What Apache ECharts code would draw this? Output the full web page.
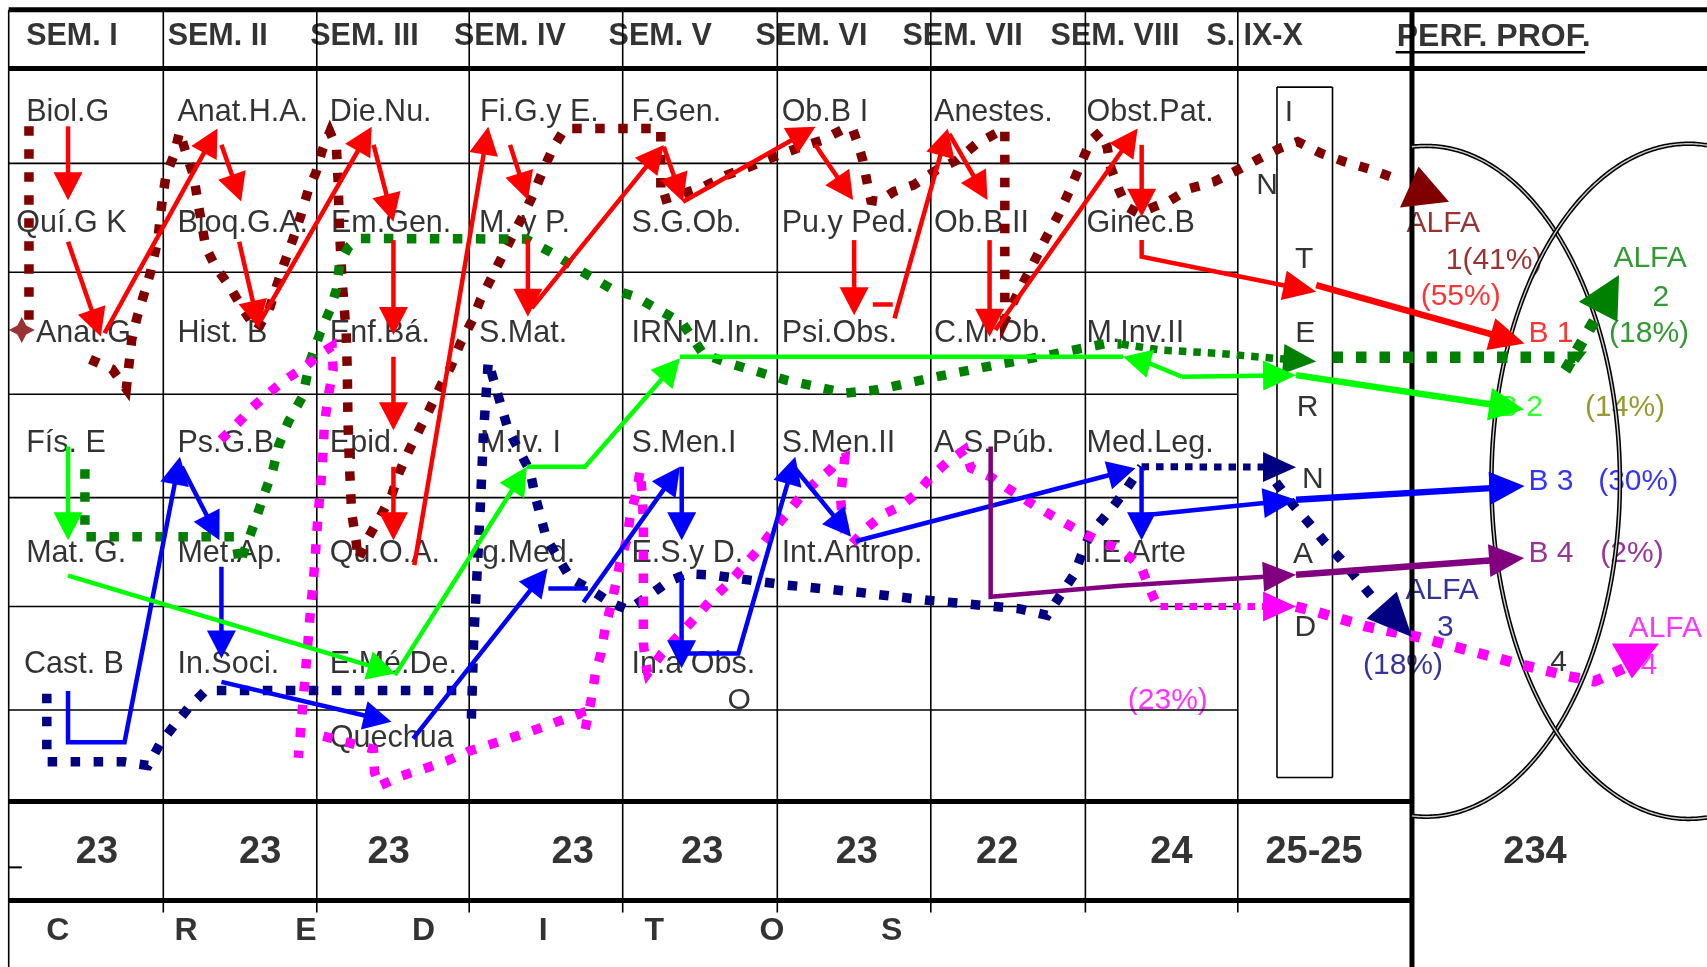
<!DOCTYPE html>
<html>
<head>
<meta charset="utf-8">
<title>Malla curricular</title>
<script src="https://cdn.jsdelivr.net/npm/echarts@6.0.0/dist/echarts.min.js"></script>
<style>
  html, body { margin: 0; padding: 0; background: #fff; }
  #chart { width: 1707px; height: 967px; }
</style>
</head>
<body>
<div id="chart"></div>
<script>
// sheet units: 1568 x 888, y grows downwards
var RED = '#ff0000', DRED = '#800000', GREEN = '#008000', LIME = '#00ff00',
    BLUE = '#0000ff', NAVY = '#000080', MAG = '#ff00ff', PURPLE = '#800080', OLIVE = '#808000';
var FONT = 'Liberation Sans';

// table rules
var colX = [150, 291, 431, 572, 714, 855, 997, 1137];
var rowY = [150, 250, 362, 457, 557, 652];

// header
var semesters = ['SEM. I', 'SEM. II', 'SEM. III', 'SEM. IV', 'SEM. V', 'SEM. VI', 'SEM. VII', 'SEM. VIII', 'S. IX-X', 'PERF. PROF.'];
var semesterX = [24, 154, 285, 417, 559, 694, 829, 965, 1108, 1283];

// courses: name, x, y
var courses = [
  ['Biol.G', 24, 101], ['Anat.H.A.', 163, 101], ['Die.Nu.', 303, 101], ['Fi.G.y E.', 441, 101],
  ['F.Gen.', 580, 101], ['Ob.B I', 718, 101], ['Anestes.', 858, 101], ['Obst.Pat.', 998, 101],
  ['Quí.G K', 15, 203], ['Bioq.G.A.', 163, 203], ['Em.Gen.', 304, 203], ['M. y P.', 440, 203],
  ['S.G.Ob.', 580, 203], ['Pu.y Ped.', 718, 203], ['Ob.B II', 858, 203], ['Ginec.B', 998, 203],
  ['Anat.G', 33, 304], ['Hist. B', 163, 304], ['Enf.Bá.', 303, 304], ['S.Mat.', 440, 304],
  ['IRN.M.In.', 580, 304], ['Psi.Obs.', 718, 304], ['C.M.Ob.', 858, 304], ['M.Inv.II', 998, 304],
  ['Fís. E', 24, 405], ['Ps.G.B', 163, 405], ['Epid.', 303, 405], ['M.Iv. I', 441, 405],
  ['S.Men.I', 580, 405], ['S.Men.II', 718, 405], ['A.S.Púb.', 858, 405], ['Med.Leg.', 998, 405],
  ['Mat. G.', 24, 506], ['Met.Ap.', 163, 506], ['Qu.O.A.', 303, 506], ['Ig.Med.', 435, 506],
  ['E.S.y D.', 580, 506], ['Int.Antrop.', 718, 506], ['I.E.Arte', 996, 506],
  ['Cast. B', 22, 608], ['In.Soci.', 163, 608], ['E.Mé.De.', 303, 608], ['In.a Obs.', 580, 608],
  ['Quechua', 303, 676]
];

// credits row
var credits = ['23', '23', '23', '23', '23', '23', '22', '24', '25-25', '234'];
var creditX = [89, 239, 357, 526, 645, 787, 916, 1076, 1207, 1410];
var creditLetters = ['C', 'R', 'E', 'D', 'I', 'T', 'O', 'S'];
var creditLetterX = [53, 171, 281, 389, 499, 601, 709, 819];

// INTERNADO letters (centre x, y)
var internado = [['I', 1184, 101], ['N', 1164, 168], ['T', 1198, 236], ['E', 1199, 304], ['R', 1201, 372],
  ['N', 1206, 438], ['A', 1197, 507], ['D', 1199, 574], ['O', 679, 641]];

// profile notes: text, x, y, colour
var notes = [
  ['ALFA', 1292, 203, DRED], ['1(41%)', 1328, 237, DRED], ['(55%)', 1305, 270, RED],
  ['ALFA', 1482, 235, GREEN], ['2', 1518, 271, GREEN], ['(18%)', 1478, 304, GREEN],
  ['B 1', 1404, 304, RED], ['B 2', 1376, 372, LIME], ['(14%)', 1456, 372, OLIVE],
  ['B 3', 1404, 440, BLUE], ['(30%)', 1468, 440, BLUE], ['B 4', 1404, 506, PURPLE], ['(2%)', 1470, 506, PURPLE],
  ['ALFA', 1291, 540, NAVY], ['3', 1320, 574, NAVY], ['(18%)', 1252, 609, NAVY], ['4', 1424, 606, '#000'],
  ['ALFA', 1496, 575, MAG], ['4', 1507, 609, MAG], ['(23%)', 1036, 641, MAG]
];

// profile ellipses: cx, cy, rx, ry, visible from x, to x
var ellipses = [[1310, 442, 178, 308, 1297, 1568], [1551, 442, 181, 310, 1297, 1568]];

// solid arrows
var redArrows = [
  [[62.5, 116], [62.5, 184]], [[62.5, 222], [92.6, 309]], [[96, 306], [199.8, 118]],
  [[203.4, 133], [221.5, 185]], [[219.7, 222], [237.9, 301.6]], [[239.7, 294], [341.4, 116.4]],
  [[343.2, 133], [361.4, 203.6]], [[361.4, 220.5], [361.4, 307.7]], [[361.4, 327.6], [361.4, 395]],
  [[361.4, 428.7], [361.4, 496]], [[380.6, 519], [448.5, 116.4]], [[468.5, 133], [484.9, 183.7]],
  [[484.9, 219], [484.9, 290.9]], [[488.5, 283], [609.7, 133.2]], [[609.7, 134.7], [627.4, 185.3]],
  [[627.4, 185.3], [749, 116.4]], [[749, 133.2], [783.6, 183.7]], [[784.6, 220.5], [784.6, 289.4]],
  [[821.7, 292.4], [870.7, 117.9]], [[872, 123], [907, 183.7]], [[909, 220.5], [909, 309.3]],
  [[914.3, 303], [1045, 118]], [[1048.7, 133], [1048.7, 199]]
];
var redStub = [[801.7, 279.6], [820, 279.6]];
var redToT = [[1048.7, 220.5], [1048.7, 235.8], [1209, 268]];
var redToB1 = [[1209, 261.8], [1400.4, 315.4]];

var blueArrows = [
  [[62.5, 634.6], [62.5, 681.5], [114.4, 681.5], [165.3, 419.5]], [[167, 428.7], [201.6, 496]],
  [[203.4, 520.5], [203.4, 604.7]], [[203.4, 626.2], [359.6, 662.9]], [[379.5, 678.2], [503, 522]],
  [[536, 553], [624.6, 428.6]], [[626.2, 428.6], [626.2, 496]], [[626.1, 528], [626.1, 613.6]],
  [[626.1, 600.1], [678.2, 600.1], [730.5, 419.5]], [[729, 428.6], [781.7, 493]],
  [[786, 497], [1043, 430]], [[1048.6, 428.6], [1048.6, 496]]
];
var blueStub = [[503.7, 540.4], [540, 540.4]];
var blueToT = [[1048.6, 473.4], [1190.5, 459]];
var blueToB3 = [[1190.5, 459], [1400.4, 446.4]];

var limeArrows = [
  [[62.5, 410], [62.5, 496]], [[62.5, 528.6], [363.2, 618.5]], [[362.8, 620], [484, 428.6]],
  [[484, 428.6], [537.4, 428.6], [624.6, 329]], [[1085.6, 346], [1056.5, 334], [1031.6, 327.6]]
];
var limeStub = [[624.6, 327.6], [1031.6, 327.6]];
var limeToT = [[1085.6, 346], [1190.5, 344.5]];
var limeToB2 = [[1190.5, 344.5], [1400, 376]];

var purpleToT = [[910, 410], [910, 548], [1029, 537.8], [1190.5, 527.7]];
var purpleToB4 = [[1190.5, 527.7], [1400, 512.5]];

// dotted routes
var darkRedStart = [[26.6, 116], [26.6, 298]];
var darkRedRoute = [[82.7, 330], [103, 339], [116, 357], [121, 312], [126, 291], [132, 271], [138, 251], [145, 220],
  [149, 184], [152.5, 161], [160, 142], [165, 121], [171, 141], [178, 162], [182, 187], [189, 227], [198, 245],
  [211, 263], [222, 282], [236, 303], [247, 285], [254, 263], [261, 242], [269, 220], [276, 199], [283, 175],
  [290, 159], [296, 138], [303, 121], [309, 135], [310.5, 165], [312, 214], [314, 254], [318, 306], [319, 340],
  [319.6, 385], [321, 428], [323, 471], [327, 496], [329, 514], [338, 494], [349, 475], [360, 454], [367, 433],
  [376, 413], [385, 395], [394, 377], [405, 354], [414, 337], [423, 315], [434, 294], [441, 276], [452, 254],
  [461, 236], [472, 214], [483, 193], [490, 178], [499, 156], [508.5, 135], [519, 118], [607, 118], [607, 184],
  [627, 178], [647, 171], [667, 161], [689, 153], [711, 144], [733, 136], [754.5, 129], [776, 118], [783, 118],
  [789, 135], [792.5, 147], [796, 165], [800, 184], [807, 185], [821, 176], [839, 170], [860.5, 156], [879, 147],
  [897, 132], [912, 124], [923, 118], [923, 294], [935, 269], [947.6, 245], [960, 220], [973, 196], [984, 171.5],
  [993, 150], [1002, 129], [1011, 121], [1017, 135], [1020, 153], [1028, 174.5], [1035, 190], [1046, 196],
  [1060, 190], [1075, 184], [1093, 173], [1115, 167], [1139, 155], [1158, 145], [1176, 136], [1192, 130],
  [1214, 141], [1235, 148.5], [1257, 155], [1285, 165]];

var greenRoute = [[78, 431], [78, 493], [216, 493], [220, 518], [227, 499], [236, 474], [243, 453], [250.6, 432],
  [256, 409], [265, 387], [278, 364], [285, 331], [294, 306], [303, 285], [309, 266], [312, 242], [320, 227],
  [329, 219], [483, 219.5], [508.5, 233], [527, 245], [563, 266], [584, 272.5], [606, 285], [627, 297],
  [646, 325], [671, 334], [722, 349], [777, 361], [806, 358], [860, 346], [915, 335], [969, 325],
  [1016, 315.4], [1030, 316]];
var greenToT = [[1030, 316], [1067, 321.5], [1121, 324.6], [1170, 329], [1209, 332]];
var greenToAlfa2 = [[1224, 328], [1447, 328], [1438, 340], [1466, 292]];

var navyCast = [[43, 637], [43, 699.6], [114, 699.6], [136, 703], [147, 683], [160, 666], [174, 649], [189, 634], [437, 634]];
var navyRoute = [[433, 660], [435, 591], [441, 470], [444, 400], [448.5, 332], [461, 375], [467, 395], [487, 433],
  [491, 453], [497, 476], [502, 494.5], [524, 531], [543.5, 542], [560, 553], [577, 560], [596, 547], [614, 534],
  [631, 527], [654, 528], [720, 537], [785, 543.5], [850, 551], [914, 557], [936, 559], [962, 565], [975, 545],
  [987, 527], [994, 508], [1001.5, 490], [1020, 468.5], [1034, 450], [1048.6, 428.6]];
var navyToN = [[1048.6, 428.6], [1190.5, 429]];
var navyToAlfa3 = [[1172, 443], [1188, 464], [1203, 481], [1217, 498], [1232, 514], [1246, 531], [1262, 550]];

var magRouteA = [[203, 404], [218, 389], [232, 374], [247, 361], [261.5, 349], [280, 337], [294, 325], [305, 318],
  [306, 340], [302, 361], [298, 389], [296, 429], [292, 475], [289, 519], [285, 563], [281.5, 606], [278, 649], [274, 696]];
var magRouteB = [[297, 676], [343, 688], [344, 709], [348, 722], [369, 712.5], [389, 706], [410, 699], [430, 690],
  [451, 683.5], [471, 677], [492, 670], [514, 662], [534, 655], [537.5, 670], [543, 643], [547, 618], [552, 600],
  [556, 576], [561, 557], [565, 539], [569.5, 517], [575.6, 496], [578.7, 475], [585, 450], [588, 432], [590, 456],
  [591, 478], [591, 502], [591, 524], [591, 545], [591, 570], [591, 591], [593, 609], [595, 618], [608, 600],
  [622, 585], [638, 568], [653, 551], [669, 536], [684, 519], [698, 503], [710, 487], [722.5, 472], [737, 454],
  [750, 442], [763, 431], [770, 422], [776, 420], [772, 457], [774, 477], [777, 493], [783, 499], [797, 484],
  [812, 472], [826, 465.5], [841, 454], [855, 438], [870, 424.5], [886, 413], [892, 430], [910, 438], [928, 450],
  [950, 464], [968, 474.5], [990, 487], [1008, 496], [1030, 505], [1048, 520], [1055, 538.5], [1062, 554], [1066, 557]];
var magToD = [[1066, 557], [1161, 557], [1190.5, 557]];
var magToAlfa4 = [[1190.5, 557], [1210, 562], [1254, 575], [1303, 585], [1350, 597.6], [1396, 610], [1441, 621],
  [1464.5, 625.6], [1478, 620], [1493, 613]];

// big triangle heads at the ALFA groups
var alfa1Head = [[1286, 190.5], [1303, 153], [1331, 185.2]];
var alfa2Head = [[1450.3, 277], [1487.2, 252.6], [1485.7, 295.5]];
var alfa3Head = [[1255.3, 568], [1283, 543.5], [1297, 585]];
var alfa4Head = [[1480.6, 591], [1523.8, 591], [1499, 623]];
var starMark = [20, 303];

// ---------- build lists for the library ----------
var HEAD_S = [28, 14.5], HEAD_T = [33, 15], HEAD_B = [35, 16.5];
var DOT = [9.5, 13.5], THIN = [7.5, 7], FAT = [10.5, 13];
var TEXT_DY = 2.5;

var paths = [];
function add(list, color, width, dash, head) {
  list.forEach(function (pts) { paths.push({ pts: pts, color: color, width: width, dash: dash, head: head }); });
}
add([darkRedStart, darkRedRoute], DRED, 9.5, DOT, null);
add([greenRoute], GREEN, 9.5, DOT, null);
add([greenToT], GREEN, 7.5, THIN, HEAD_T);
add([greenToAlfa2], GREEN, 11.5, FAT, null);
add([navyCast, navyRoute], NAVY, 9.5, DOT, null);
add([navyToN], NAVY, 7, THIN, HEAD_T);
add([navyToAlfa3], NAVY, 9.5, DOT, null);
add([magRouteA, magRouteB], MAG, 9.5, DOT, null);
add([magToD], MAG, 7, THIN, HEAD_T);
add([magToAlfa4], MAG, 10.5, FAT, null);
add(redArrows, RED, 4.5, null, HEAD_S);
add([redStub], RED, 4.5, null, null);
add([redToT], RED, 4.5, null, HEAD_T);
add([redToB1], RED, 6.5, null, HEAD_B);
add(blueArrows, BLUE, 4.5, null, HEAD_S);
add([blueStub], BLUE, 4.5, null, null);
add([blueToT], BLUE, 4.5, null, HEAD_T);
add([blueToB3], BLUE, 6.5, null, HEAD_B);
add(limeArrows, LIME, 4.5, null, HEAD_S);
add([limeStub], LIME, 4.5, null, null);
add([limeToT], LIME, 4.5, null, HEAD_T);
add([limeToB2], LIME, 6.5, null, HEAD_B);
add([purpleToT], PURPLE, 4.5, null, HEAD_T);
add([purpleToB4], PURPLE, 6.5, null, HEAD_B);

var triangles = [[alfa1Head, DRED], [alfa2Head, GREEN], [alfa3Head, NAVY], [alfa4Head, MAG]];

// rules: x1, y1, x2, y2, width(px)
var rules = [[8, 9, 1568, 9, 5], [8, 63, 1568, 63, 5], [8, 9, 8, 888, 1.6], [1297, 9, 1297, 888, 5],
  [8, 736, 1297, 736, 5], [8, 827, 1297, 827, 5], [8, 796.5, 20, 796.5, 2],
  [1173, 80, 1224, 80, 1.6], [1224, 80, 1224, 714, 1.6], [1224, 714, 1173, 714, 1.6], [1173, 714, 1173, 80, 1.6],
  [1282, 48, 1456, 48, 2.5]];
colX.forEach(function (x) { rules.push([x, 9, x, 838, 1.6]); });
rowY.forEach(function (y) { rules.push([8, y, 1137, y, 1.6]); });

var texts = [];
function txt(t, x, y, color, size, bold, centred) {
  texts.push({
    value: [x, y + TEXT_DY],
    label: {
      formatter: t, position: centred ? 'inside' : 'right', distance: 0,
      color: color, fontSize: size, fontWeight: bold ? 'bold' : 'normal', fontFamily: FONT
    }
  });
}
semesters.forEach(function (s, i) { txt(s, semesterX[i], 31.5, '#000', i === 9 ? 32 : 30.5, true, false); });
courses.forEach(function (c) { txt(c[0], c[1], c[2], '#000', 30.5, false, false); });
credits.forEach(function (c, i) { txt(c, creditX[i], 780, '#000', 38, true, true); });
creditLetters.forEach(function (c, i) { txt(c, creditLetterX[i], 853, '#000', 32, true, true); });
internado.forEach(function (c) { txt(c[0], c[1], c[2], '#000', 30, false, true); });
notes.forEach(function (n) { txt(n[0], n[1], n[2], n[3], 30, false, false); });

function ellipsePoints(e) {
  var cx = e[0], cy = e[1], a = e[2], b = e[3], t0, t1, t;
  if (e[4] > cx - a) { t = Math.acos((e[4] - cx) / a); t0 = -t; t1 = t; }
  else { t = Math.acos(Math.min(1, (e[5] - cx) / a)); t0 = t; t1 = 2 * Math.PI - t; }
  var pts = [];
  for (var i = 0; i <= 300; i++) {
    var s = t0 + (t1 - t0) * i / 300;
    pts.push([cx + a * Math.cos(s), cy + b * Math.sin(s)]);
  }
  return pts;
}

var chart = echarts.init(document.getElementById('chart'));
chart.setOption({
  animation: false,
  backgroundColor: '#fff',
  grid: { left: 0, right: 0, top: 0, bottom: 0 },
  xAxis: { type: 'value', min: 0, max: 1568, show: false },
  yAxis: { type: 'value', min: 0, max: 888, inverse: true, show: false },
  series: [
    {
      type: 'scatter', z: 1, silent: true, symbolSize: 0,
      label: { show: true },
      data: texts
    },
    {
      type: 'custom', z: 2, silent: true,
      data: rules.map(function (r) { return [r[0], r[1]]; }),
      renderItem: function (params, api) {
        var r = rules[params.dataIndex];
        var a = api.coord([r[0], r[1]]), b = api.coord([r[2], r[3]]);
        return { type: 'line', shape: { x1: a[0], y1: a[1], x2: b[0], y2: b[1] }, style: { stroke: '#000', lineWidth: r[4] } };
      }
    },
    {
      type: 'custom', z: 3, silent: true,
      data: ellipses.map(function (e) { return [e[0], e[1]]; }),
      renderItem: function (params, api) {
        var pts = ellipsePoints(ellipses[params.dataIndex]).map(function (p) { return api.coord(p); });
        return {
          type: 'group', children: [
            { type: 'polyline', shape: { points: pts }, style: { stroke: '#000', lineWidth: 4.5, fill: 'none' } },
            { type: 'polyline', shape: { points: pts }, style: { stroke: '#cfcfcf', lineWidth: 1.4, fill: 'none' } }
          ]
        };
      }
    },
    {
      type: 'custom', z: 4, silent: true,
      data: paths.map(function (p) { return p.pts[0]; }),
      renderItem: function (params, api) {
        var p = paths[params.dataIndex];
        var pts = p.pts.map(function (q) { return api.coord(q); });
        var children = [], head = null, n = pts.length;
        if (p.head) {
          var tip = pts[n - 1], prev = pts[n - 2];
          var dx = tip[0] - prev[0], dy = tip[1] - prev[1], len = Math.sqrt(dx * dx + dy * dy) || 1;
          var ux = dx / len, uy = dy / len, L = p.head[0], hw = p.head[1];
          var bx = tip[0] - ux * L, by = tip[1] - uy * L;
          head = [[tip[0], tip[1]], [bx - uy * hw, by + ux * hw], [bx + uy * hw, by - ux * hw]];
          pts[n - 1] = [tip[0] - ux * L * 0.6, tip[1] - uy * L * 0.6];
        }
        children.push({
          type: 'polyline', shape: { points: pts },
          style: { stroke: p.color, lineWidth: p.width, lineDash: p.dash, lineCap: 'butt', fill: 'none' }
        });
        if (head) children.push({ type: 'polygon', shape: { points: head }, style: { fill: p.color } });
        return { type: 'group', children: children };
      }
    },
    {
      type: 'custom', z: 5, silent: true,
      data: triangles.map(function (t) { return t[0][0]; }),
      renderItem: function (params, api) {
        var t = triangles[params.dataIndex];
        return { type: 'polygon', shape: { points: t[0].map(function (q) { return api.coord(q); }) }, style: { fill: t[1] } };
      }
    },
    {
      type: 'scatter', z: 5, silent: true,
      symbol: 'path://M0,-10 L3.4,-3.4 L10,0 L3.4,3.4 L0,10 L-3.4,3.4 L-10,0 L-3.4,-3.4 Z',
      symbolSize: 26, itemStyle: { color: DRED },
      data: [starMark]
    }
  ]
});
</script>
</body>
</html>
